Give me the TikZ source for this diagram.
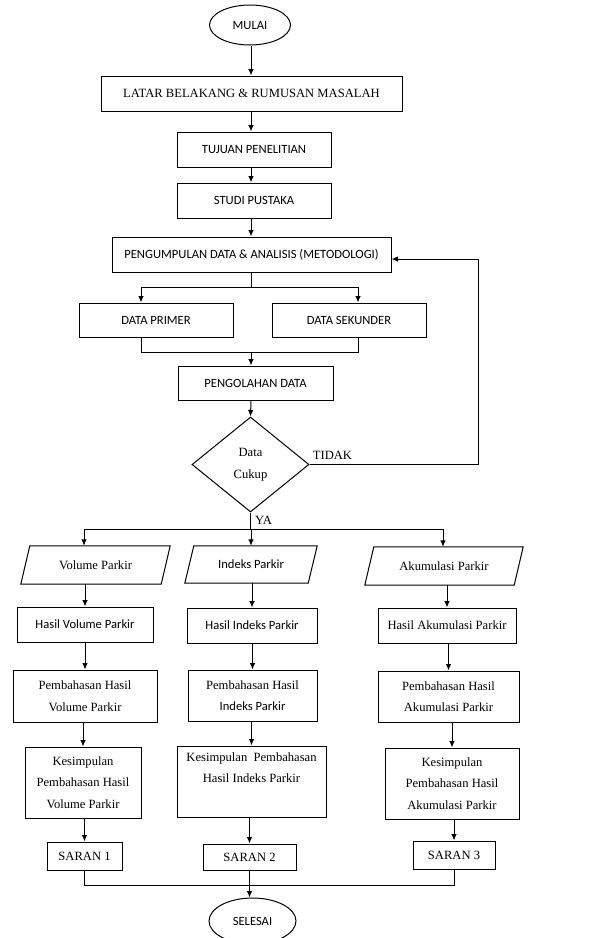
\documentclass[tikz,border=0pt]{standalone}
\usepackage{fontspec}
\setmainfont{Liberation Serif}
\newfontfamily\sansc{Carlito}
\usetikzlibrary{shapes.geometric,arrows.meta}
\begin{document}
\begin{tikzpicture}[x=1pt,y=-1pt,
  every node/.style={font=\fontsize{12.6pt}{21.5pt}\selectfont, inner sep=0pt, align=center},
  bx/.style={draw, line width=1pt},
  term/.style={draw, ellipse, line width=1pt},
  ln/.style={line width=1pt},
  arr/.style={line width=1pt, -{Latex[length=6.5pt,width=5.5pt]}}
]
\useasboundingbox (0,0) rectangle (596,938);
\coordinate (cx) at (251,0);

% top chain
\node[term, minimum width=81pt, minimum height=40pt] (mulai) at (250,25) {\sansc MULAI};
\node[bx, minimum width=301pt, minimum height=35pt] (latar) at (251.5,93.5) {LATAR BELAKANG \& RUMUSAN MASALAH};
\node[bx, minimum width=154pt, minimum height=35pt] (tujuan) at (254,149.5) {\sansc TUJUAN PENELITIAN};
\node[bx, minimum width=154pt, minimum height=35pt] (studi) at (254,200.5) {\sansc STUDI PUSTAKA};
\node[bx, minimum width=279pt, minimum height=35pt] (peng) at (251.5,254.5) {\sansc PENGUMPULAN DATA \& ANALISIS (METODOLOGI)};
\node[bx, minimum width=154pt, minimum height=34pt] (primer) at (156,320) {\sansc DATA PRIMER};
\node[bx, minimum width=154pt, minimum height=34pt] (sek) at (349,320) {\sansc DATA SEKUNDER};
\node[bx, minimum width=155pt, minimum height=34pt] (olah) at (255.5,383) {\sansc PENGOLAHAN DATA};
\node[draw, diamond, line width=1pt, minimum width=117pt, minimum height=95pt, font=\fontsize{12.6pt}{21.7pt}\selectfont] (dec) at (250.5,464.5) {Data\\Cukup};
\node (tidak) at (332.5,455) {TIDAK};
\node (ya) at (263.5,520) {YA};

\draw[arr] (cx |- mulai.south) -- (cx |- latar.north);
\draw[arr] (cx |- latar.south) -- (cx |- tujuan.north);
\draw[arr] (cx |- tujuan.south) -- (cx |- studi.north);
\draw[arr] (cx |- studi.south) -- (cx |- peng.north);

% split to data primer / sekunder
\coordinate (sL) at (141,287);
\coordinate (sR) at (358,287);
\draw[ln] (cx |- peng.south) -- (cx |- sL);
\draw[ln] (sL) -- (sR);
\draw[arr] (sL) -- (sL |- primer.north);
\draw[arr] (sR) -- (sR |- sek.north);
% merge
\coordinate (mL) at (141,352);
\coordinate (mR) at (358,352);
\draw[ln] (mL |- primer.south) -- (mL) -- (mR) -- (mR |- sek.south);
\draw[arr] (cx |- mL) -- (cx |- olah.north);
\draw[arr] (cx |- olah.south) -- (dec.north);

% feedback TIDAK
\coordinate (fb) at (478,259);
\draw[arr] (dec.east) -- (fb |- dec.east) -- (fb) -- (fb -| peng.east);

% parallelograms
\node[minimum width=149pt, minimum height=38pt] (pv) at (95.5,565) {Volume Parkir};
\node[minimum width=132pt, minimum height=37pt] (pi) at (251,564.5) {\sansc Indeks Parkir};
\node[minimum width=158pt, minimum height=38pt] (pa) at (444,566) {Akumulasi Parkir};
\foreach \n in {pv,pi,pa}{
  \draw[ln] ([xshift=9pt]\n.north west) -- (\n.north east) -- ([xshift=-9pt]\n.south east) -- (\n.south west) -- cycle;
}

% branch YA
\coordinate (b1) at (84,529);
\coordinate (b2) at (251,529);
\coordinate (b3) at (443,529);
\draw[ln] (dec.south) -- (dec.south |- b2);
\draw[ln] (b1) -- (b3);
\draw[arr] (b1) -- (b1 |- pv.north);
\draw[arr] (b2) -- (b2 |- pi.north);
\draw[arr] (b3) -- (b3 |- pa.north);

% column 1
\node[bx, minimum width=136pt, minimum height=35pt] (hv) at (85,624.5) {\sansc Hasil Volume Parkir};
\node[bx, minimum width=144pt, minimum height=52pt] (bv) at (85,696) {Pembahasan Hasil\\Volume Parkir};
\node[bx, minimum width=116pt, minimum height=71pt] (kv) at (83,782.5) {Kesimpulan\\Pembahasan Hasil\\Volume Parkir};
\node[bx, minimum width=75pt, minimum height=28pt] (s1) at (84.5,856) {SARAN 1};

% column 2
\node[bx, minimum width=130pt, minimum height=35pt] (hi) at (252,625.5) {\sansc Hasil Indeks Parkir};
\node[bx, minimum width=129pt, minimum height=51pt] (bi) at (252.5,695.5) {Pembahasan Hasil\\{\sansc Indeks Parkir}};
\node[bx, minimum width=149pt, minimum height=71pt] (ki) at (251.5,781.5) {Kesimpulan~~Pembahasan\\Hasil Indeks Parkir\\\strut};
\node[bx, minimum width=93pt, minimum height=26pt] (s2) at (249.5,857) {SARAN 2};

% column 3
\node[bx, minimum width=138pt, minimum height=35pt] (ha) at (447,625.5) {Hasil Akumulasi Parkir};
\node[bx, minimum width=141pt, minimum height=51pt] (ba) at (448.5,696.5) {Pembahasan Hasil\\Akumulasi Parkir};
\node[bx, minimum width=134pt, minimum height=71pt] (ka) at (452,783.5) {Kesimpulan\\Pembahasan Hasil\\Akumulasi Parkir};
\node[bx, minimum width=82pt, minimum height=28pt] (s3) at (454,855) {SARAN 3};

\draw[arr] (hv.north |- pv.south) -- (hv.north);
\draw[arr] (bv.north |- hv.south) -- (bv.north);
\draw[arr] (kv.north |- bv.south) -- (kv.north);
\draw[arr] (s1.north |- kv.south) -- (s1.north);

\draw[arr] (hi.north |- pi.south) -- (hi.north);
\draw[arr] (bi.north |- hi.south) -- (bi.north);
\draw[arr] (ki.north |- bi.south) -- (ki.north);
\draw[arr] (s2.north |- ki.south) -- (s2.north);

\draw[arr] (ha.north |- pa.south) -- (ha.north);
\draw[arr] (ba.north |- ha.south) -- (ba.north);
\draw[arr] (ka.north |- ba.south) -- (ka.north);
\draw[arr] (s3.north |- ka.south) -- (s3.north);

% end
\node[term, minimum width=87pt, minimum height=46pt] (sel) at (252.5,921) {\sansc SELESAI};
\coordinate (mg) at (0,885);
\draw[ln] (s1.south) -- (s1.south |- mg) -- (s3.south |- mg) -- (s3.south);
\draw[arr] (s2.south) -- (s2.south |- sel.north);
\end{tikzpicture}
\end{document}
